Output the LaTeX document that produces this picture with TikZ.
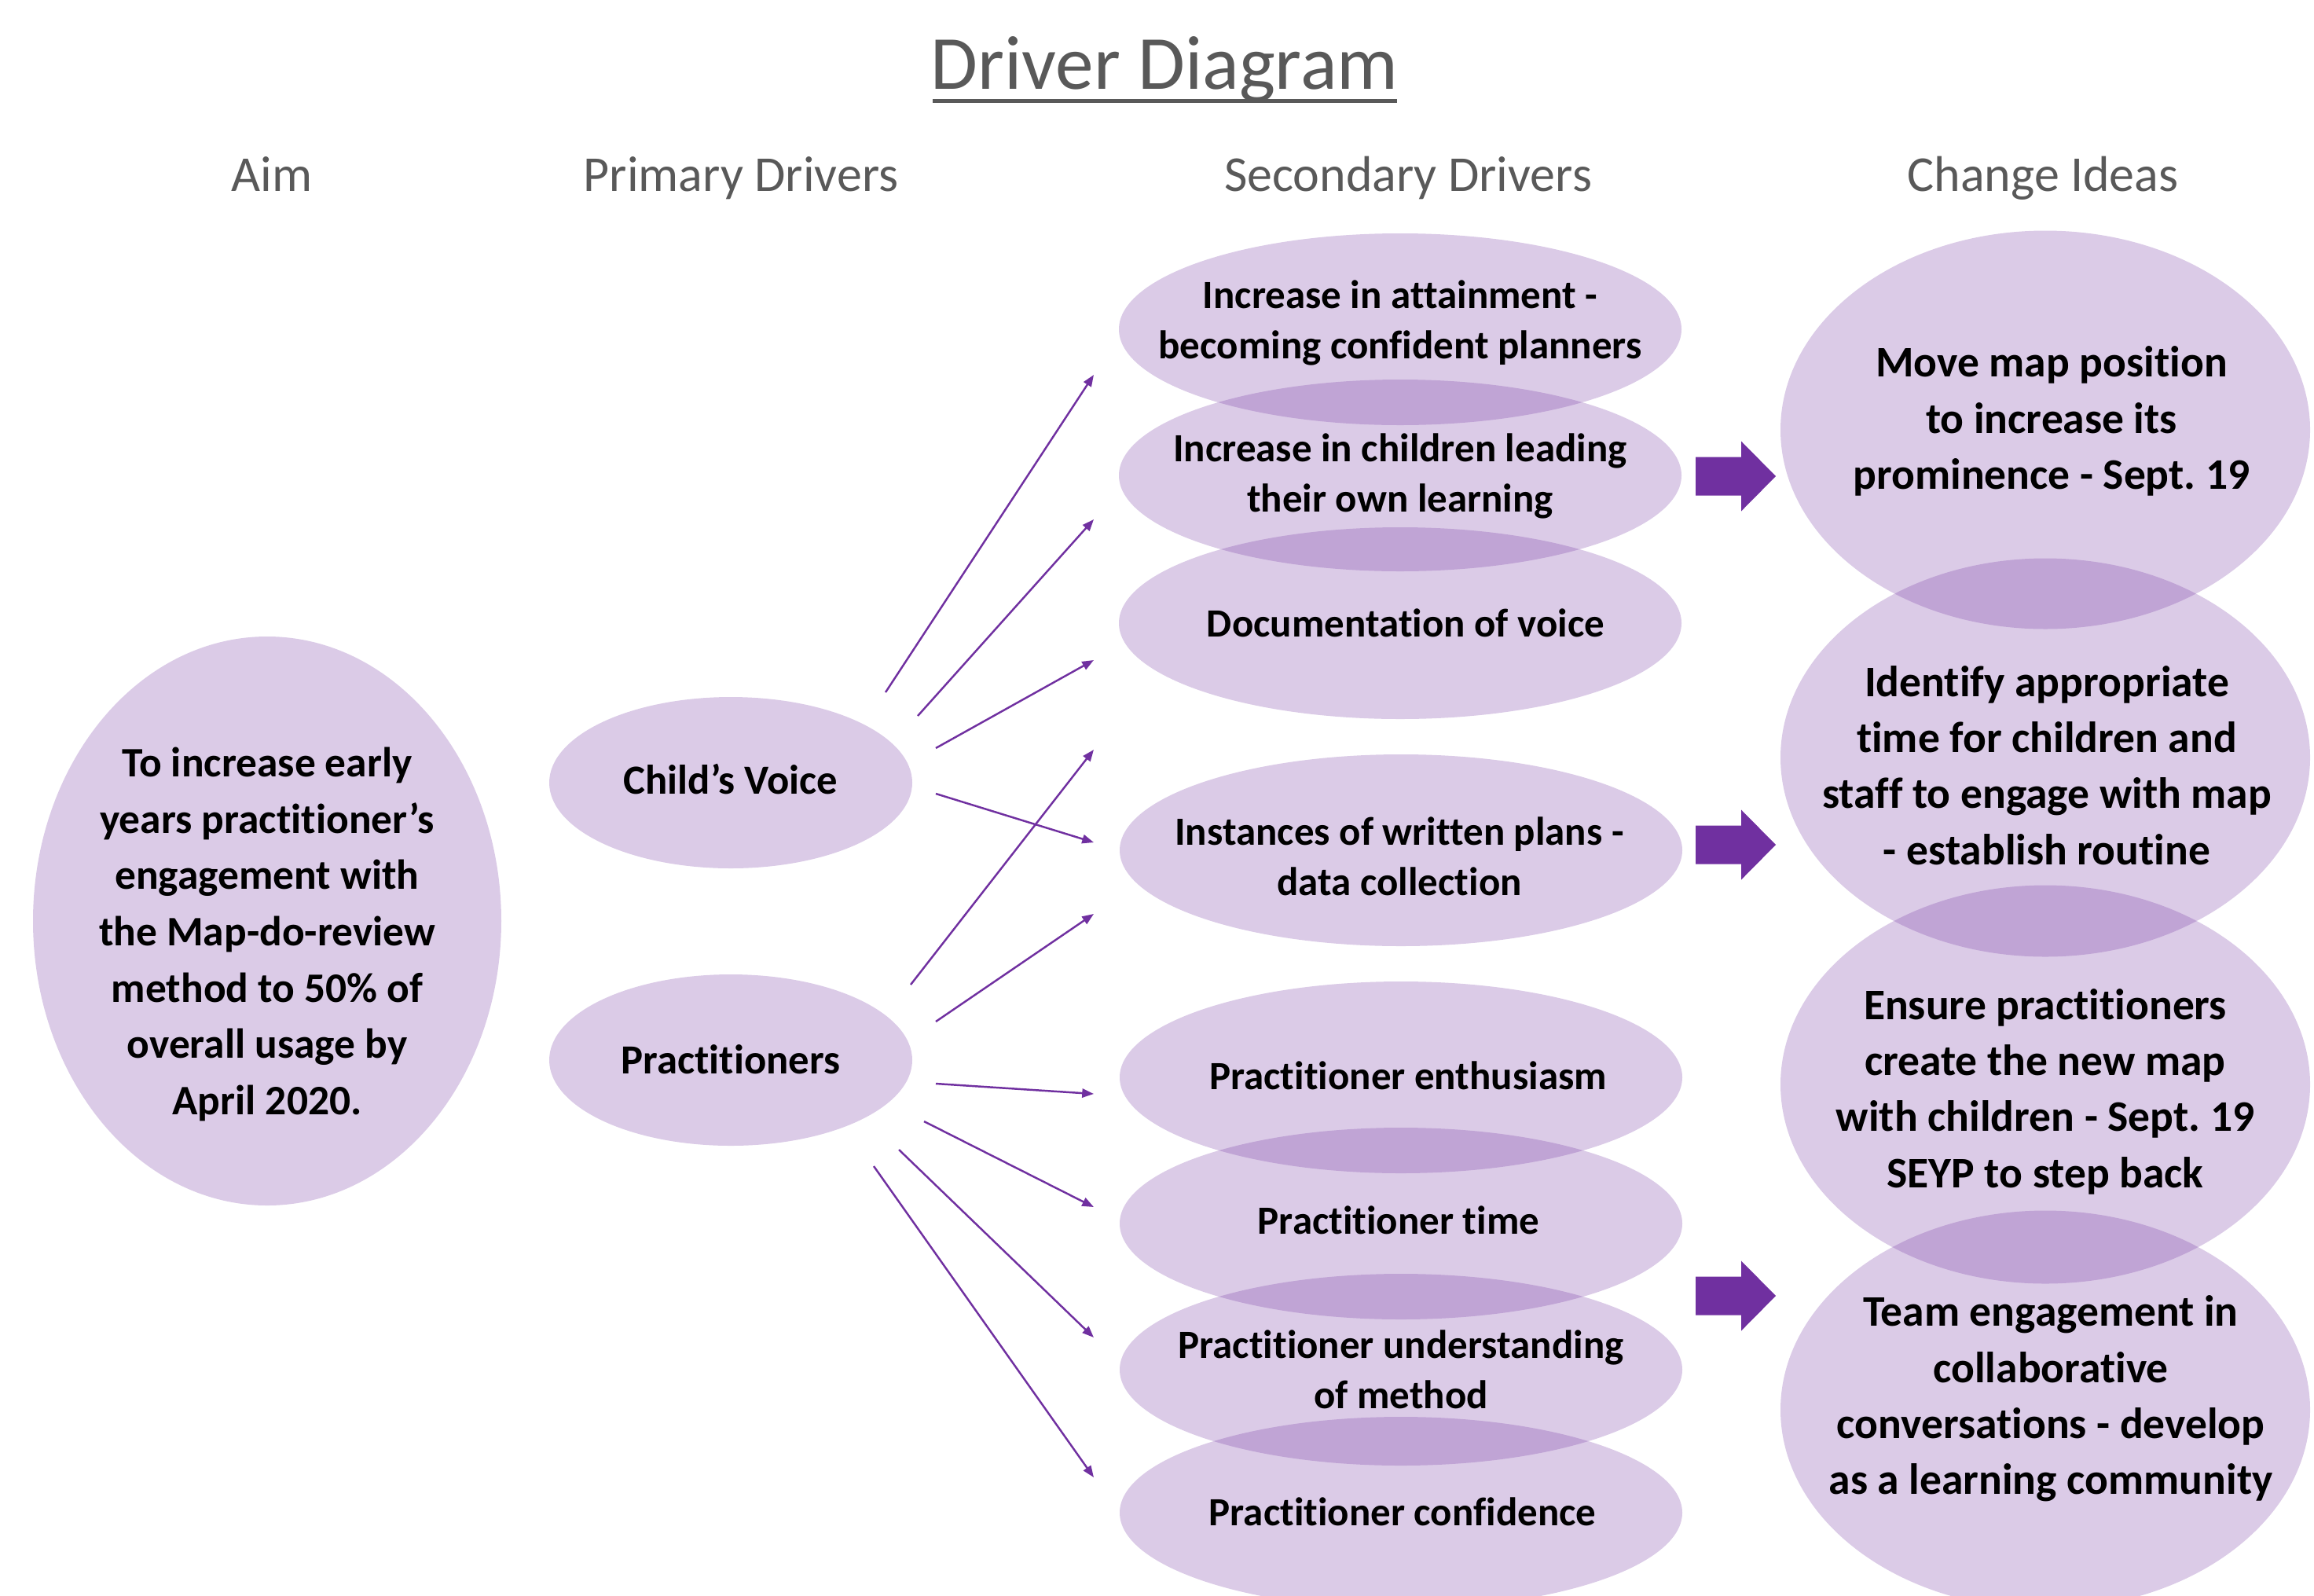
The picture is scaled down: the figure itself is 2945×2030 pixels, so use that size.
\documentclass[tikz,border=0pt]{standalone}
\usepackage{fontspec}
\setmainfont[Ligatures=NoCommon]{Carlito}
\usetikzlibrary{shapes.geometric,arrows.meta}
\definecolor{drvpurple}{HTML}{7030A0}
\definecolor{hdrgray}{HTML}{595959}
\frenchspacing

\begin{document}
\begin{tikzpicture}[x=0.1mm,y=-0.1mm,
  bubble/.style={ellipse, fill=drvpurple, fill opacity=0.25, inner sep=0pt},
  aimbox/.style={bubble, minimum width=59.6mm, minimum height=72.4mm},
  primbox/.style={bubble, minimum width=46.2mm, minimum height=21.8mm},
  secbox/.style={bubble, minimum width=71.6mm, minimum height=24.4mm},
  ideabox/.style={bubble, minimum width=67.4mm, minimum height=50.7mm},
  label text/.style={align=center, inner sep=0pt, text=black},
  aimtext/.style={label text, font=\bfseries\fontsize{15.2}{20.4}\selectfont},
  primtext/.style={label text, font=\bfseries\fontsize{15}{20.3}\selectfont},
  sectext/.style={label text, font=\bfseries\fontsize{14.5}{18.2}\selectfont},
  ideatext/.style={label text, font=\bfseries\fontsize{15.8}{20.3}\selectfont},
  colhead/.style={anchor=base, text=hdrgray, font=\fontsize{18.2}{22}\selectfont},
  link/.style={draw=drvpurple, line width=0.7pt,
    -{Triangle[length=4.2pt,width=3.2pt]}},
  pics/blockarrow/.style={code={
    \fill[drvpurple] (0,-24.5) -- (58,-24.5) -- (58,-44.5) -- (102,0)
      -- (58,44.5) -- (58,24.5) -- (0,24.5) -- cycle;}}
]
\useasboundingbox (0,0) rectangle (2945,2030);

% title and column headings
\node[anchor=base, text=hdrgray, font=\fontsize{27.7}{32}\selectfont]
  (title) at (1482,113) {Driver Diagram};
\fill[hdrgray] (1187,125.5) rectangle (1778,130.5);
\node[colhead] (hAim)  at (346,243)  {Aim};
\node[colhead] (hPrim) at (943,243)  {Primary Drivers};
\node[colhead] (hSec)  at (1792,243) {Secondary Drivers};
\node[colhead] (hIdea) at (2600,243) {Change Ideas};

% bubbles
\node[aimbox]  (aim) at (340,1172) {};
\node[primbox] (cv)  at (930,996)  {};
\node[primbox] (pr)  at (930,1349) {};
\node[secbox]  (s1)  at (1782,419)  {};
\node[secbox]  (s2)  at (1782,605)  {};
\node[secbox]  (s3)  at (1782,793)  {};
\node[secbox]  (s4)  at (1783,1082) {};
\node[secbox]  (s5)  at (1783,1371) {};
\node[secbox]  (s6)  at (1783,1557) {};
\node[secbox]  (s7)  at (1783,1743) {};
\node[secbox]  (s8)  at (1783,1925) {};
\node[ideabox] (c1)  at (2603,547)  {};
\node[ideabox] (c2)  at (2603,964)  {};
\node[ideabox] (c3)  at (2603,1380) {};
\node[ideabox] (c4)  at (2603,1794) {};

% bubble texts
\node[aimtext] (aimT) at (340,1189) {To increase early\\years practitioner’s\\engagement with\\the Map-do-review\\method to 50\% of\\overall usage by\\April 2020.};
\node[primtext] (cvT) at (930,991)  {Child’s Voice};
\node[primtext] (prT) at (930,1348) {Practitioners};
\node[sectext] (s1T) at (1782,411)  {Increase in attainment -\\becoming confident planners};
\node[sectext] (s2T) at (1782,606)  {Increase in children leading\\their own learning};
\node[sectext] (s3T) at (1789,793)  {Documentation of voice};
\node[sectext] (s4T) at (1781,1090) {Instances of written plans -\\data collection};
\node[sectext] (s5T) at (1792,1369) {Practitioner enthusiasm};
\node[sectext] (s6T) at (1780,1553) {Practitioner time};
\node[sectext] (s7T) at (1783,1743) {Practitioner understanding\\of method};
\node[sectext] (s8T) at (1785,1924) {Practitioner confidence};
\node[ideatext] (c1T) at (2611,536)  {Move map position\\to increase its\\prominence - Sept. 19};
\node[ideatext] (c2T) at (2605,974)  {Identify appropriate\\time for children and\\staff to engage with map\\- establish routine};
\node[ideatext] (c3T) at (2603,1389) {Ensure practitioners\\create the new map\\with children - Sept. 19\\SEYP to step back};
\node[ideatext] (c4T) at (2610,1780) {Team engagement in\\collaborative\\conversations - develop\\as a learning community};

% end points of the thin connectors
\coordinate (cvA) at (1127,881);
\coordinate (cvB) at (1168,911);
\coordinate (cvC) at (1191,952);
\coordinate (cvD) at (1191,1010);
\coordinate (prA) at (1159,1253);
\coordinate (prB) at (1191,1300);
\coordinate (prC) at (1191,1379);
\coordinate (prD) at (1176,1427);
\coordinate (prE) at (1144,1463);
\coordinate (prF) at (1112,1484);
\coordinate (t1) at (1392,477);
\coordinate (t2) at (1392,661);
\coordinate (t3) at (1392,840);
\coordinate (t4) at (1392,1072);
\coordinate (t4b) at (1392,954);
\coordinate (t4c) at (1392,1163);
\coordinate (t5) at (1392,1392);
\coordinate (t6) at (1392,1536);
\coordinate (t7) at (1392,1702);
\coordinate (t8) at (1392,1880);

% child's voice links
\draw[link] (cvA) -- (t1);
\draw[link] (cvB) -- (t2);
\draw[link] (cvC) -- (t3);
\draw[link] (cvD) -- (t4);
% practitioner links
\draw[link] (prA) -- (t4b);
\draw[link] (prB) -- (t4c);
\draw[link] (prC) -- (t5);
\draw[link] (prD) -- (t6);
\draw[link] (prE) -- (t7);
\draw[link] (prF) -- (t8);

% block arrows towards the change ideas
\pic at (2158,606)  {blockarrow};
\pic at (2158,1075) {blockarrow};
\pic at (2158,1649) {blockarrow};
\end{tikzpicture}
\end{document}
